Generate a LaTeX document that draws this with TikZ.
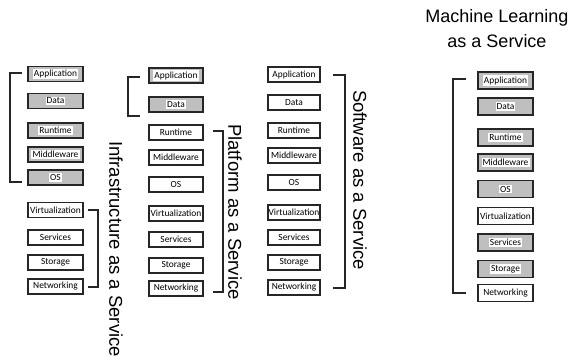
\documentclass[tikz,border=0pt]{standalone}
\usepackage{fontspec}
\setmainfont{Carlito}
\newfontfamily\arialf{Liberation Sans}
\tikzset{
  boxfont/.style={font=\fontsize{9.4bp}{10bp}\selectfont},
  wbox/.style={draw=black!85, line width=1.5bp, fill=white, inner sep=0pt, boxfont},
  gbox/.style={draw=black!85, line width=1.9bp, fill=black!25, inner sep=0pt},
  glbl/.style={fill=white, inner sep=1.1bp, boxfont},
  brk/.style={draw=black!85, line width=1.2bp},
  side/.style={rotate=-90, inner sep=0pt, font=\arialf\fontsize{18.5bp}{20bp}\selectfont},
}
\newcommand\gbx[6]{\node[gbox,minimum width=#4bp,minimum height=#5bp] (#1) at (#2,#3) {}; \node[glbl] (#1t) at (#1) {#6};}
\newcommand\wbx[6]{\node[wbox,minimum width=#4bp,minimum height=#5bp] (#1) at (#2,#3) {#6};}
\begin{document}
\begin{tikzpicture}[x=1bp,y=-1bp]
\useasboundingbox (0,0) rectangle (579,363);
% IaaS
\gbx{a1}{55.5}{74}{55}{15}{Application}
\gbx{a2}{55.5}{101}{55}{15}{Data}
\gbx{a3}{55.5}{130.5}{55}{15}{Runtime}
\gbx{a4}{55.5}{154.5}{55}{15}{Middleware}
\gbx{a5}{55.5}{177.5}{55}{15}{OS}
\wbx{a6}{55.5}{210}{55}{15}{Virtualization}
\wbx{a7}{55.5}{237.5}{55}{15}{Services}
\wbx{a8}{55.5}{262.5}{55}{15}{Storage}
\wbx{a9}{55.5}{286.5}{55}{15}{Networking}
\draw[brk] (22,73) -- (10,73) -- (10,182) -- (22,182);
\draw[brk] (88,210) -- (98,210) -- (98,287) -- (88,287);
\node[side] (iaas) at (116,249) {Infrastructure as a Service};
% PaaS
\gbx{b1}{176}{75.5}{54}{15}{Application}
\gbx{b2}{176}{104.5}{54}{15}{Data}
\wbx{b3}{176}{132.5}{54}{15}{Runtime}
\wbx{b4}{176}{157.5}{54}{15}{Middleware}
\wbx{b5}{176}{184.5}{54}{15}{OS}
\wbx{b6}{176}{213.5}{54}{15}{Virtualization}
\wbx{b7}{176}{239.5}{54}{15}{Services}
\wbx{b8}{176}{265.5}{54}{15}{Storage}
\wbx{b9}{176}{288.5}{54}{15}{Networking}
\draw[brk] (140,77) -- (128,77) -- (128,116) -- (140,116);
\draw[brk] (213,131) -- (223,131) -- (223,292) -- (213,292);
\node[side] (paas) at (235,212) {Platform as a Service};
% SaaS
\wbx{c1}{294}{74.5}{52}{15}{Application}
\wbx{c2}{294}{102.5}{52}{15}{Data}
\wbx{c3}{294}{130.5}{52}{15}{Runtime}
\wbx{c4}{294}{155.5}{52}{15}{Middleware}
\wbx{c5}{294}{182.5}{52}{15}{OS}
\wbx{c6}{294}{212.5}{52}{15}{Virtualization}
\wbx{c7}{294}{237.5}{52}{15}{Services}
\wbx{c8}{294}{262.5}{52}{15}{Storage}
\wbx{c9}{294}{287.5}{52}{15}{Networking}
\draw[brk] (333,75) -- (345,75) -- (345,288) -- (333,288);
\node[side] (saas) at (360,180) {Software as a Service};
% MLaaS
\node[align=center, inner sep=0pt, font=\arialf\fontsize{18bp}{25bp}\selectfont] (ml) at (497,29) {Machine Learning\\as a Service};
\gbx{d1}{505.5}{80.5}{55}{17}{Application}
\gbx{d2}{505.5}{106.5}{55}{17}{Data}
\gbx{d3}{505.5}{137.5}{55}{17}{Runtime}
\gbx{d4}{505.5}{162.5}{55}{17}{Middleware}
\gbx{d5}{505.5}{189}{55}{17}{OS}
\wbx{d6}{505.5}{216}{55}{17}{Virtualization}
\gbx{d7}{505.5}{242.5}{55}{17}{Services}
\gbx{d8}{505.5}{269}{55}{17}{Storage}
\wbx{d9}{505.5}{293}{55}{17}{Networking}
\draw[brk] (466,79) -- (453,79) -- (453,293) -- (466,293);
\end{tikzpicture}
\end{document}
